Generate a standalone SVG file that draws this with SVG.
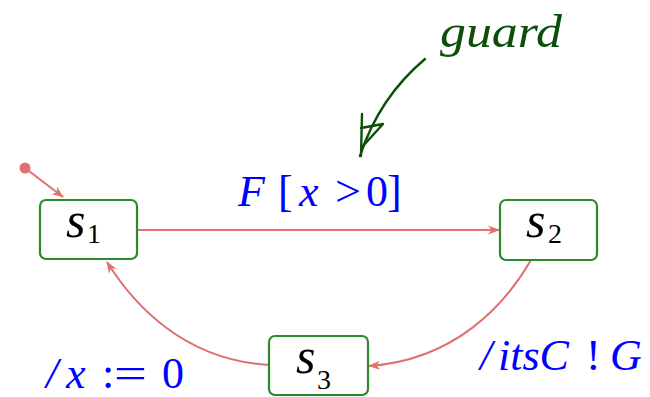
<svg xmlns="http://www.w3.org/2000/svg" width="650" height="397" viewBox="0 0 650 397">
<defs>
<style>
.box{fill:#fff;stroke:#2b8a2b;stroke-width:2.2}
.con{fill:none;stroke:#e07070;stroke-width:2}
.hand{fill:none;stroke:#0b4f0b;stroke-width:2.4;stroke-linecap:round;stroke-linejoin:round}
</style>
<marker id="arr" viewBox="0 0 12 10" refX="11" refY="5" markerWidth="12" markerHeight="10" markerUnits="userSpaceOnUse" orient="auto">
<path d="M0,0.5 L12,5 L0,9.5 L3.5,5 z" fill="#e07070"/>
</marker>
</defs>
<g id="connectors">
<circle cx="25" cy="168" r="5.5" fill="#e07070"/>
<path class="con" d="M25,168 L63,197" marker-end="url(#arr)"/>
<path class="con" d="M137,230 L499,230" marker-end="url(#arr)"/>
<path class="con" d="M531,260 C505,305 455,360 369,366" marker-end="url(#arr)"/>
<path class="con" d="M269,365 C184,360 134,305 107,262" marker-end="url(#arr)"/>
</g>
<g font-family="Liberation Serif">
<g id="s1">
<rect class="box" x="40" y="200" width="97" height="59" rx="6"/>
<text x="66" y="237" font-size="50" font-style="italic" fill="#000">s</text>
<text x="87" y="243" font-size="28" fill="#000">1</text>
</g>
<g id="s2">
<rect class="box" x="500" y="200" width="97" height="60" rx="6"/>
<text x="526" y="237" font-size="50" font-style="italic" fill="#000">s</text>
<text x="548" y="243" font-size="28" fill="#000">2</text>
</g>
<g id="s3">
<rect class="box" x="269" y="336" width="99" height="59" rx="6"/>
<text x="296" y="373" font-size="50" font-style="italic" fill="#000">s</text>
<text x="317" y="389" font-size="28" fill="#000">3</text>
</g>
<g id="labels" fill="#0000ff" font-size="44">
<text y="206"><tspan font-style="italic" x="238">F</tspan><tspan x="278">[</tspan><tspan font-style="italic" x="299">x</tspan><tspan x="335" textLength="26" lengthAdjust="spacingAndGlyphs">&gt;</tspan><tspan x="366">0</tspan><tspan x="387">]</tspan></text>
<text y="388"><tspan font-style="italic" x="46">/</tspan><tspan font-style="italic" x="66">x</tspan><tspan x="102">:</tspan><tspan x="114" textLength="33" lengthAdjust="spacingAndGlyphs">=</tspan><tspan x="162">0</tspan></text>
<text y="370"><tspan font-style="italic" x="480">/</tspan><tspan font-style="italic" x="498">itsC</tspan><tspan x="586">!</tspan><tspan font-style="italic" x="610">G</tspan></text>
</g>
<g id="note">
<text x="440" y="47" font-style="italic" font-size="46" fill="#0b4f0b" textLength="122" lengthAdjust="spacingAndGlyphs">guard</text>
<path class="hand" d="M425,59 C400,80 375,110 360,156"/>
<path class="hand" d="M362,114 L361,156 M361,128 L383,124 L363,146"/>
</g>
</g>
</svg>
